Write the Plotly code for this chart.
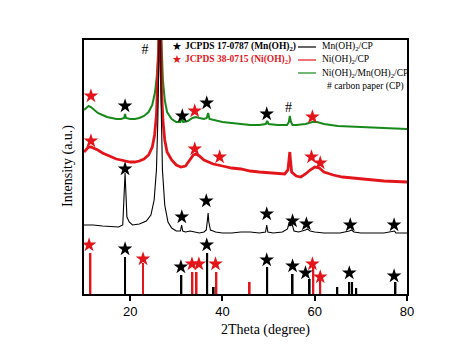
import plotly.graph_objects as go

# ---------------- data ----------------
# Mn(OH)2/CP (black)
mn_x = [10, 12, 14, 16, 17.5, 18.4, 18.65, 18.8, 18.9, 19.0, 19.15, 19.3, 19.5, 19.8, 20.5, 22, 23.5, 24.5,
        25.2, 25.7, 26.0, 26.2, 26.35, 26.5, 26.7, 27.0, 27.5, 28.2, 29, 30, 30.9, 31.15, 31.4, 32, 33, 34, 35,
        36, 36.5, 36.75, 36.9, 37.05, 37.4, 38, 38.5, 40, 42, 44, 46, 48, 49.35, 49.6, 49.85, 51, 53, 54.1,
        54.45, 54.8, 55.1, 55.5, 56.5, 58, 58.4, 59, 60, 62, 64, 65.5, 67.5, 68, 68.5, 70, 72, 75, 77.3, 77.6, 80]
mn_y = [69, 69, 68, 67, 67, 69, 90, 115, 121, 110, 85, 77, 75, 72, 69, 70, 73, 79,
        94, 124, 174, 234, 320, 320, 194, 124, 89, 72, 66, 63, 63, 69, 63, 62, 63, 62, 61,
        62, 64, 74, 81, 72, 64, 63, 62, 61, 61, 62, 62, 61, 62, 69, 62, 61, 62, 65,
        72, 68, 70, 63, 62, 64, 65, 63, 62, 61, 61, 61, 63, 64, 62, 61, 61, 61, 63, 61, 61]

# Ni(OH)2/CP (red)
ni_x = [10, 10.5, 11, 11.5, 12, 13, 14, 15, 16, 17, 18, 19, 20, 21, 22, 23, 24, 24.8, 25.3, 25.7, 26.0,
        26.2, 26.4, 26.6, 26.8, 27.1, 27.5, 28, 29, 30, 31, 32, 33, 33.7, 34.3, 35, 36, 37, 38, 40, 42, 44,
        46, 48, 50, 52, 53.5, 54.2, 54.5, 54.6, 54.75, 55, 56, 57, 58, 59, 60, 61, 62, 64, 66, 70, 75, 80]
ni_y = [142, 145, 147, 147, 146, 144, 141, 139, 137, 135, 134, 133, 132, 132, 133, 135, 139, 147, 159, 179, 209,
        244, 354, 244, 204, 174, 154, 142, 134, 129, 127, 128, 134, 139, 140, 138, 134, 132, 130, 128, 126, 125,
        123, 122, 121, 120, 120, 124, 138, 142, 134, 122, 118, 117, 120, 124, 127, 126, 122, 119, 117, 115, 113, 112]

# Ni(OH)2/Mn(OH)2/CP (green)
nm_x = [10, 10.5, 11, 11.5, 12, 13, 14, 15, 16, 17, 18, 18.7, 18.9, 19.1, 20, 21, 22, 23, 24, 24.8, 25.4,
        25.8, 26.1, 26.3, 26.45, 26.6, 26.8, 27.1, 27.5, 28, 29, 30, 30.9, 31.2, 31.5, 32.5, 33.5, 34.2, 35,
        36, 36.6, 36.9, 37.2, 38, 40, 42, 44, 46, 48, 49.4, 49.7, 50, 52, 54, 54.4, 54.6, 54.85, 55.2, 56,
        58, 59.5, 60.5, 62, 65, 70, 75, 80]
nm_y = [184, 186, 188, 187, 185, 181, 179, 177, 176, 175, 175, 176, 180, 176, 175, 175, 176, 178, 182, 189, 202,
        219, 244, 274, 340, 274, 244, 214, 194, 182, 175, 172, 172, 176, 172, 173, 176, 177, 176,
        175, 176, 181, 175, 174, 172, 171, 170, 169, 169, 170, 173, 170, 169, 169, 172, 178, 172, 169, 169,
        170, 172, 172, 170, 168, 167, 166, 165]

# reference sticks
jc_mn_x = [18.9, 31.1, 36.7, 38.1, 49.7, 55.2, 58.9, 64.9, 67.5, 68.1, 69.0, 77.5]
jc_mn_h = [37, 19, 41, 7, 27, 20, 15, 7, 12, 12, 6, 12]
jc_ni_x = [11.4, 22.8, 33.5, 34.4, 38.7, 45.9, 59.7, 61.2]
jc_ni_h = [41, 31, 22, 22, 22, 12, 32, 16]

# star labels (Mn(OH)2 = black, Ni(OH)2 = red)
star_mn_x = [18.9, 31.0, 36.6, 49.6, 55.2, 58.0, 67.5, 77.2,
             18.9, 31.3, 36.6, 49.6,
             18.9, 31.2, 36.5, 49.6, 55.2, 58.2, 67.7, 77.2]
star_mn_y = [45, 27, 49, 34, 28, 21, 21, 18,
             188, 178, 191, 180,
             125, 77, 93, 80, 73, 70, 69, 69]
star_ni_x = [11.1, 22.8, 33.4, 34.9, 38.5, 59.5, 61.2,
             11.5, 34.0, 59.5,
             11.5, 34.0, 39.4, 59.3, 61.2]
star_ni_y = [49, 35, 30, 30, 30, 30, 17,
             198, 183, 177,
             153, 145, 137, 137, 131]
hash_x = [23.2, 54.3]
hash_y = [244, 186]

x_ticks = [20, 40, 60, 80]

RED = "#e3151b"
GREEN = "#16891a"
SERIF = "Liberation Serif"

fig = go.Figure()

fig.add_trace(go.Bar(x=jc_mn_x, y=jc_mn_h, width=0.42, marker=dict(color="black", line=dict(width=0)),
                     showlegend=False))
fig.add_trace(go.Bar(x=jc_ni_x, y=jc_ni_h, width=0.42, marker=dict(color=RED, line=dict(width=0)),
                     showlegend=False))

fig.add_trace(go.Scatter(x=nm_x, y=nm_y, mode="lines", line=dict(color=GREEN, width=2), showlegend=False))
fig.add_trace(go.Scatter(x=ni_x, y=ni_y, mode="lines", line=dict(color=RED, width=2.8), showlegend=False))
fig.add_trace(go.Scatter(x=mn_x, y=mn_y, mode="lines", line=dict(color="black", width=1.1), showlegend=False))

fig.add_trace(go.Scatter(x=star_mn_x, y=star_mn_y, mode="markers",
                         marker=dict(symbol="star", size=11, color="black", line=dict(width=0)),
                         showlegend=False, cliponaxis=False))
fig.add_trace(go.Scatter(x=star_ni_x, y=star_ni_y, mode="markers",
                         marker=dict(symbol="star", size=11, color=RED, line=dict(width=0)),
                         showlegend=False, cliponaxis=False))
fig.add_trace(go.Scatter(x=hash_x, y=hash_y, mode="text", text=["#", "#"],
                         textfont=dict(family=SERIF, size=14, color="black"),
                         showlegend=False))

# plot area in pixels: x 84..407, y 40..294
def px(xp):
    return (xp - 84) / 323.0

def py(yp):
    return (294 - yp) / 254.0

annotations = []
# legend left: stars
for txt, col, yp in [("<b>JCPDS 17-0787 (Mn(OH)<sub>2</sub>)</b>", "black", 47),
                     ("<b>JCPDS 38-0715 (Ni(OH)<sub>2</sub>)</b>", RED, 60)]:
    annotations.append(dict(x=px(177), y=py(yp), xref="paper", yref="paper", text="★", showarrow=False,
                            font=dict(family="DejaVu Sans", size=11, color=col), xanchor="center", yanchor="middle"))
    annotations.append(dict(x=px(183), y=py(yp), xref="paper", yref="paper", text=txt, showarrow=False,
                            font=dict(family=SERIF, size=9.5, color=col), xanchor="left", yanchor="middle"))
# legend right: lines
shapes = []
for txt, col, yp in [("Mn(OH)<sub>2</sub>/CP", "black", 47),
                     ("Ni(OH)<sub>2</sub>/CP", RED, 60),
                     ("Ni(OH)<sub>2</sub>/Mn(OH)<sub>2</sub>/CP", GREEN, 73)]:
    shapes.append(dict(type="line", xref="paper", yref="paper", x0=px(298), x1=px(316), y0=py(yp), y1=py(yp),
                       line=dict(color=col, width=1.2)))
    annotations.append(dict(x=px(320), y=py(yp), xref="paper", yref="paper", text=txt, showarrow=False,
                            font=dict(family=SERIF, size=9.5, color="black"), xanchor="left", yanchor="middle"))
annotations.append(dict(x=px(325), y=py(86), xref="paper", yref="paper", text="# carbon paper (CP)",
                        showarrow=False, font=dict(family=SERIF, size=9.5, color="black"),
                        xanchor="left", yanchor="middle"))
# axis titles
annotations.append(dict(x=px(265), y=py(330), xref="paper", yref="paper", text="2Theta (degree)", showarrow=False,
                        font=dict(family=SERIF, size=14, color="black"), xanchor="center", yanchor="middle"))
annotations.append(dict(x=px(68), y=py(166), xref="paper", yref="paper", text="Intensity (a.u.)", showarrow=False,
                        textangle=-90, font=dict(family=SERIF, size=14, color="black"),
                        xanchor="center", yanchor="middle"))

fig.update_layout(
    width=474, height=353,
    margin=dict(l=84, r=67, t=40, b=59),
    paper_bgcolor="white", plot_bgcolor="white",
    barmode="overlay",
    showlegend=False,
    annotations=annotations,
    shapes=shapes,
    xaxis=dict(range=[10, 80], tickvals=x_ticks, ticks="outside", ticklen=5, tickwidth=1.5, tickcolor="black",
               showline=True, linecolor="black", linewidth=1.5, mirror=True, showgrid=False, zeroline=False,
               tickfont=dict(family="Liberation Sans", size=13, color="black")),
    yaxis=dict(range=[0, 254], showticklabels=False, ticks="", showline=True, linecolor="black", linewidth=1.5,
               mirror=True, showgrid=False, zeroline=False),
)

fig.write_html("out.html")
